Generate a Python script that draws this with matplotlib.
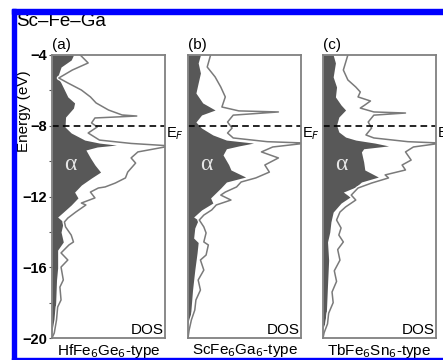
import matplotlib
matplotlib.use("Agg")
import matplotlib.pyplot as plt
import matplotlib.patheffects as pe
from matplotlib.patches import Rectangle

plt.rcParams['font.family'] = ['Liberation Sans', 'DejaVu Sans']

# --- data (energy in eV, DOS in arbitrary units) ---
e_a_fill = [-4.0, -4.28, -4.68, -5.24, -5.58, -6.37, -6.71, -7.0, -7.51, -8.07, -8.41, -8.81, -8.98, -9.09, -9.2,
            -9.37, -9.82, -10.22, -10.62, -10.95, -11.35, -11.75, -12.08, -12.48, -12.88, -13.16, -13.44, -14.01,
            -14.57, -15.03, -16.04, -16.72, -18.42, -19.83, -20.0]
dos_a_fill = [0.19, 0.17, 0.08, 0.05, 0.08, 0.14, 0.20, 0.19, 0.12, 0.115, 0.17, 0.29, 0.42, 0.57, 0.40,
              0.30, 0.34, 0.38, 0.43, 0.35, 0.26, 0.20, 0.23, 0.17, 0.10, 0.05, 0.10, 0.08,
              0.10, 0.05, 0.05, 0.04, 0.03, 0.01, 0.0]
e_a_tot = [-4.0, -4.45, -4.85, -5.30, -5.58, -5.98, -6.37, -6.71, -7.11, -7.39, -7.45, -7.56, -7.84, -8.07, -8.41,
           -8.81, -9.0, -9.14, -9.48, -9.82, -10.11, -10.62, -10.95, -11.24, -11.46, -11.52, -11.75, -12.08, -12.37,
           -12.48, -12.88, -13.22, -13.44, -13.72, -14.18, -14.57, -14.74, -15.19, -15.59, -15.99, -16.72, -17.12,
           -17.85, -18.25, -18.98, -19.72, -20.0]
dos_a_tot = [0.25, 0.32, 0.18, 0.06, 0.14, 0.26, 0.34, 0.39, 0.50, 0.62, 0.75, 0.38, 0.35, 0.40, 0.32,
             0.42, 0.70, 1.05, 0.76, 0.70, 0.74, 0.67, 0.65, 0.56, 0.47, 0.41, 0.34, 0.38, 0.26,
             0.30, 0.21, 0.14, 0.11, 0.12, 0.17, 0.19, 0.15, 0.08, 0.14, 0.08, 0.10, 0.07,
             0.08, 0.05, 0.04, 0.02, 0.0]

e_b_fill = [-4.0, -4.45, -5.02, -5.58, -6.15, -6.71, -7.11, -7.39, -7.79, -8.13, -8.52, -8.81, -8.98, -9.14, -9.3,
            -9.65, -10.2, -10.5, -10.9, -11.18, -11.52, -12.08, -12.37, -12.76, -13.16, -13.33, -13.78, -14.35,
            -14.6, -15.2, -16.16, -17.3, -18.9, -19.7, -20.0]
dos_b_fill = [0.11, 0.09, 0.11, 0.09, 0.07, 0.13, 0.24, 0.12, 0.07, 0.12, 0.22, 0.34, 0.58, 0.45, 0.34,
              0.31, 0.36, 0.38, 0.51, 0.34, 0.29, 0.20, 0.22, 0.12, 0.05, 0.09, 0.06, 0.05,
              0.09, 0.08, 0.06, 0.04, 0.02, 0.0, 0.0]
e_b_tot = [-4.0, -4.68, -5.24, -5.81, -6.37, -6.94, -7.16, -7.22, -7.4, -7.79, -8.13, -8.41, -8.69, -8.9, -8.98,
           -9.2, -9.48, -9.82, -10.22, -10.62, -10.95, -11.18, -11.46, -11.75, -11.92, -12.2, -12.48, -12.76,
           -13.05, -13.33, -13.72, -14.06, -14.57, -14.74, -15.31, -15.59, -16.16, -16.72, -17.29, -17.85,
           -18.42, -18.98, -19.55, -20.0]
dos_b_tot = [0.20, 0.17, 0.24, 0.29, 0.33, 0.30, 0.45, 0.80, 0.40, 0.35, 0.39, 0.35, 0.40, 0.70, 1.05,
             0.75, 0.65, 0.80, 0.68, 0.72, 0.60, 0.47, 0.43, 0.33, 0.29, 0.38, 0.25, 0.21,
             0.14, 0.10, 0.14, 0.16, 0.14, 0.18, 0.16, 0.11, 0.14, 0.09, 0.11, 0.07,
             0.06, 0.03, 0.01, 0.0]

e_c_fill = [-4.0, -4.45, -5.24, -5.81, -6.37, -6.83, -7.11, -7.51, -7.96, -8.35, -8.64, -8.81, -8.98, -9.14, -9.3,
            -9.48, -10.05, -10.5, -10.9, -11.18, -11.46, -11.75, -12.03, -12.37, -12.88, -13.44, -14.01, -14.57,
            -15.6, -17.0, -18.5, -19.8, -20.0]
dos_c_fill = [0.09, 0.11, 0.09, 0.12, 0.11, 0.16, 0.20, 0.14, 0.12, 0.14, 0.20, 0.29, 0.46, 0.58, 0.36,
              0.34, 0.36, 0.37, 0.49, 0.34, 0.29, 0.18, 0.24, 0.16, 0.09, 0.07, 0.06, 0.04,
              0.05, 0.04, 0.03, 0.0, 0.0]
e_c_tot = [-4.0, -4.85, -5.41, -5.81, -6.09, -6.37, -6.6, -6.83, -7.0, -7.22, -7.28, -7.4, -7.79, -8.13, -8.52,
           -8.69, -8.9, -8.98, -9.2, -9.48, -9.94, -10.22, -10.5, -10.78, -10.95, -11.24, -11.52, -11.92, -12.2,
           -12.59, -12.88, -13.33, -13.78, -14.18, -14.57, -15.0, -15.6, -16.2, -16.8, -17.4, -18.0, -18.6,
           -19.2, -19.7, -20.0]
dos_c_tot = [0.22, 0.18, 0.22, 0.29, 0.33, 0.31, 0.42, 0.37, 0.33, 0.45, 0.73, 0.45, 0.40, 0.43, 0.38,
             0.45, 0.75, 1.05, 0.80, 0.73, 0.78, 0.70, 0.73, 0.55, 0.58, 0.43, 0.31, 0.25, 0.29,
             0.20, 0.15, 0.12, 0.16, 0.14, 0.18, 0.13, 0.15, 0.10, 0.12, 0.08, 0.09, 0.05,
             0.04, 0.01, 0.0]

panel_tags = ['(a)', '(b)', '(c)']
types = ['HfFe$_6$Ge$_6$-type', 'ScFe$_6$Ga$_6$-type', 'TbFe$_6$Sn$_6$-type']
fills = [(e_a_fill, dos_a_fill), (e_b_fill, dos_b_fill), (e_c_fill, dos_c_fill)]
totals = [(e_a_tot, dos_a_tot), (e_b_tot, dos_b_tot), (e_c_tot, dos_c_tot)]
e_fermi = -8

W, H = 443, 360
fig = plt.figure(figsize=(W / 100, H / 100), dpi=100)

# blue frame around the figure
fig.patches.append(Rectangle((12 / W, 0), 4 / W, 1 - 9 / H, transform=fig.transFigure, color='#0000ff', zorder=10))
fig.patches.append(Rectangle((12 / W, 1 - 14 / H), 1, 5 / H, transform=fig.transFigure, color='#0000ff', zorder=10))
fig.patches.append(Rectangle((12 / W, 0), 1, 2 / H, transform=fig.transFigure, color='#0000ff', zorder=10))

fig.text(16 / W, 1 - 22 / H, 'Sc\u2013Fe\u2013Ga', fontsize=13.5, va='center', ha='left')

lefts = [52, 188, 323]
for i in range(3):
    ax = fig.add_axes([lefts[i] / W, 1 - 338 / H, 113 / W, 283 / H])
    ef, df = fills[i]
    et, dt = totals[i]
    ax.fill_betweenx(ef, 0, df, color='#585858', lw=0)
    ax.plot(dt, et, color='#7a7a7a', lw=1.1,
            path_effects=[pe.Stroke(linewidth=3, foreground='white'), pe.Normal()])
    ax.axhline(e_fermi, color='black', lw=1.2, ls=(0, (4, 2.5)))
    ax.set_xlim(0, 1)
    ax.set_ylim(-20, -4)
    ax.set_xticks([])
    for s in ax.spines.values():
        s.set_color('#808080')
        s.set_linewidth(1.3)
    if i == 0:
        ax.set_yticks([-4, -8, -12, -16, -20])
        ax.set_yticks([-6, -10, -14, -18], minor=True)
        ax.tick_params(axis='y', which='both', direction='out', length=2.5, width=0.8,
                       color='#555555', labelsize=10.5, pad=1)
        for lab in ax.get_yticklabels():
            lab.set_fontweight('bold')
        ax.set_ylabel('Energy (eV)', fontsize=11)
        ax.yaxis.set_label_coords(-21 / 113, 0.8)
    else:
        ax.set_yticks([])
    ax.text(0.99, 0.005, 'DOS', transform=ax.transAxes, ha='right', va='bottom', fontsize=11)
    ax.text(0.16, -10.2, '\u03b1', color='#e6e6e6', fontsize=17, family='Liberation Serif',
            ha='center', va='center')
    ax.text(1.01, e_fermi, 'E$_F$', transform=ax.get_yaxis_transform(), ha='left', va='top',
            fontsize=10.5, clip_on=False)
    ax.text(0.0, 1.01, panel_tags[i], transform=ax.transAxes, ha='left', va='bottom', fontsize=11)
    ax.text(0.5, -0.015, types[i], transform=ax.transAxes, ha='center', va='top', fontsize=11)

fig.savefig('out.png', dpi=100)
